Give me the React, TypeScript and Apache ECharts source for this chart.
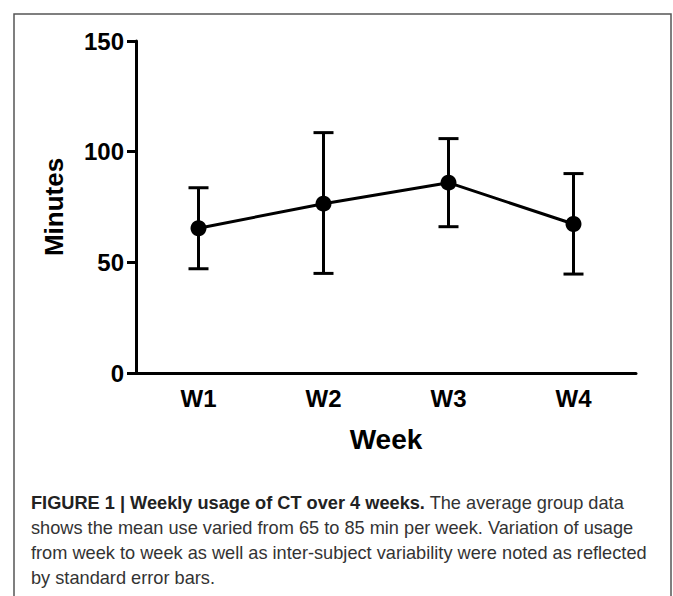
import React, { useEffect, useRef } from "react";
import * as echarts from "echarts";

const weeks = ["W1", "W2", "W3", "W4"];
const meanMinutes = [65.4, 76.5, 86.0, 67.3];
const lowerBar = [47.1, 45.0, 66.1, 44.7];
const upperBar = [83.7, 108.6, 105.9, 90.1];
const yTicks = [0, 50, 100, 150];

const captionBold = "FIGURE 1 | Weekly usage of CT over 4 weeks.";
const captionLines = [
  " The average group data",
  "shows the mean use varied from 65 to 85 min per week. Variation of usage",
  "from week to week as well as inter-subject variability were noted as reflected",
  "by standard error bars.",
];

export default function App() {
  const ref = useRef<HTMLDivElement>(null);
  useEffect(() => {
    if (!ref.current) return;
    const chart = echarts.init(ref.current, null, { renderer: "svg" });
    const errData = weeks.map((_, i) => [i, lowerBar[i], upperBar[i]]);
    const font = "'Liberation Sans', Arial, sans-serif";
    chart.setOption({
      animation: false,
      backgroundColor: "#fff",
      grid: { left: 136, right: 37, top: 41, bottom: 223 },
      xAxis: {
        type: "category",
        data: weeks,
        boundaryGap: true,
        name: "Week",
        nameLocation: "middle",
        nameGap: 52,
        nameTextStyle: { fontFamily: font, fontWeight: "bold", fontSize: 28, color: "#000" },
        axisLine: { lineStyle: { color: "#000", width: 3 } },
        axisTick: { alignWithLabel: true, length: 10, lineStyle: { color: "#000", width: 3 } },
        axisLabel: { fontFamily: font, fontWeight: "bold", fontSize: 24, color: "#000", margin: 13 },
        splitLine: { show: false },
      },
      yAxis: {
        type: "value",
        min: yTicks[0],
        max: yTicks[yTicks.length - 1],
        interval: 50,
        name: "Minutes",
        nameLocation: "middle",
        nameRotate: 90,
        nameGap: 69,
        nameTextStyle: { fontFamily: font, fontWeight: "bold", fontSize: 26, color: "#000" },
        axisLine: { show: true, lineStyle: { color: "#000", width: 3 } },
        axisTick: { show: true, length: 9, lineStyle: { color: "#000", width: 3 } },
        axisLabel: { fontFamily: font, fontWeight: "bold", fontSize: 24, color: "#000", margin: 12 },
        splitLine: { show: false },
      },
      series: [
        {
          type: "custom",
          data: errData,
          z: 1,
          renderItem: (params: any, api: any) => {
            const x = api.value(0);
            const lo = api.coord([x, api.value(1)]);
            const hi = api.coord([x, api.value(2)]);
            const hw = 10;
            const style = { stroke: "#000", lineWidth: 3 };
            return {
              type: "group",
              children: [
                { type: "line", shape: { x1: lo[0], y1: lo[1], x2: hi[0], y2: hi[1] }, style },
                { type: "line", shape: { x1: lo[0] - hw, y1: lo[1], x2: lo[0] + hw, y2: lo[1] }, style },
                { type: "line", shape: { x1: hi[0] - hw, y1: hi[1], x2: hi[0] + hw, y2: hi[1] }, style },
              ],
            };
          },
        },
        {
          type: "line",
          data: meanMinutes,
          z: 3,
          symbol: "circle",
          symbolSize: 16,
          itemStyle: { color: "#000" },
          lineStyle: { color: "#000", width: 3 },
        },
      ],
      graphic: [
        {
          type: "rect",
          shape: { x: 14, y: 14, width: 657, height: 620 },
          style: { fill: "none", stroke: "#555", lineWidth: 1.5 },
          silent: true,
        },
        {
          type: "text",
          x: 31,
          y: 490,
          style: {
            text:
              "{b|" + captionBold + "}" + captionLines[0] + "\n" + captionLines.slice(1).join("\n"),
            fontFamily: font,
            fontSize: 18.2,
            lineHeight: 25,
            fill: "#333",
            rich: {
              b: { fontFamily: font, fontSize: 18.2, fontWeight: "bold", fill: "#222", lineHeight: 25 },
            },
          },
        },
      ],
    });
    return () => chart.dispose();
  }, []);
  return (
    <div
      ref={ref}
      style={{ position: "fixed", left: 0, top: 0, width: 673, height: 596 }}
    />
  );
}
